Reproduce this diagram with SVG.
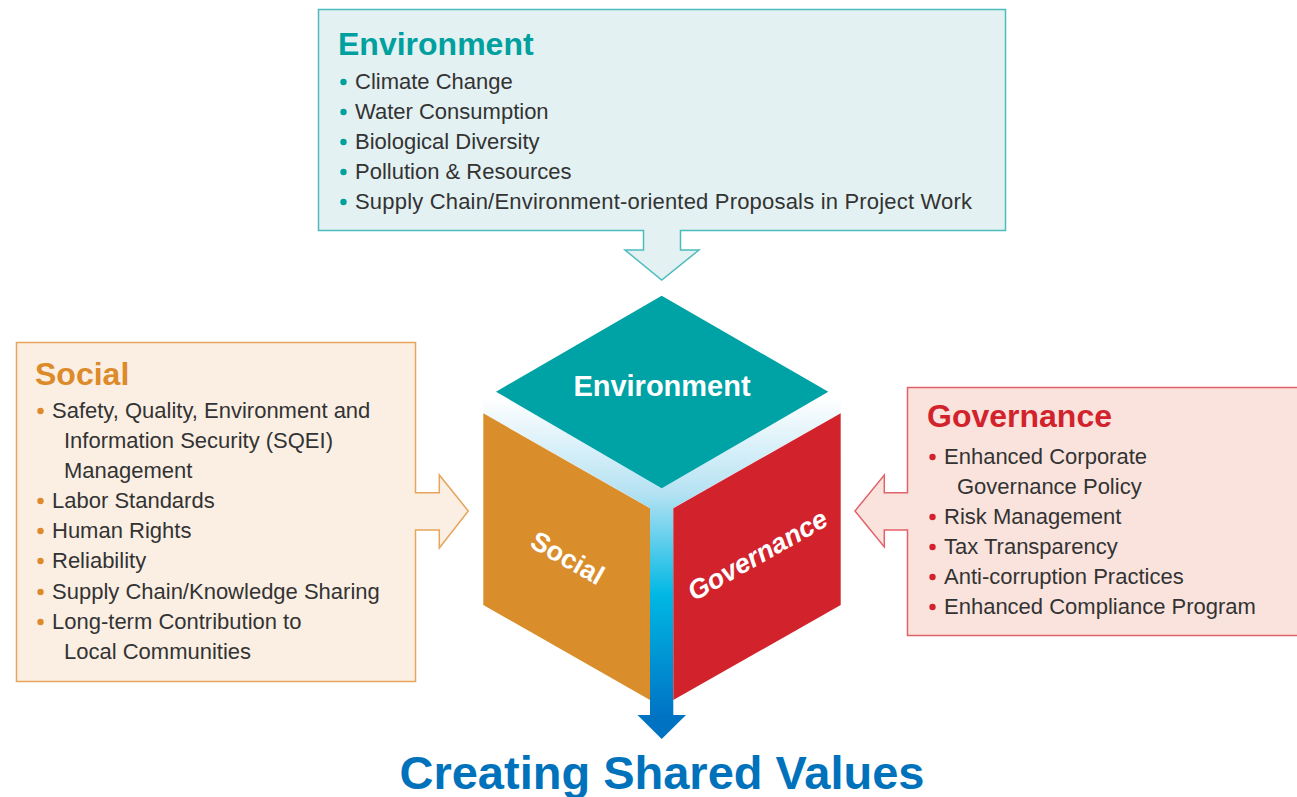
<svg xmlns="http://www.w3.org/2000/svg" width="1297" height="797" viewBox="0 0 1297 797">
<defs>
<linearGradient id="band" x1="0" y1="398" x2="0" y2="715" gradientUnits="userSpaceOnUse">
<stop offset="0" stop-color="#ffffff"/>
<stop offset="0.3" stop-color="#b5e2f3"/>
<stop offset="0.62" stop-color="#00b8e4"/>
<stop offset="1" stop-color="#0074c4"/>
</linearGradient>
<style>
.t{font-family:"Liberation Sans",Arial,sans-serif;}
.h{font-size:32px;font-weight:bold;}
.i{font-size:22px;fill:#333333;}
.cw{font-size:27px;font-weight:bold;fill:#ffffff;}
</style>
</defs>
<rect width="1297" height="797" fill="#ffffff"/>
<g id="connectors">
<path d="M483,398 L661.7,295.7 L840.7,398 L840.7,413 L673.3,508 L673.3,715 L650,715 L650,508 L483.3,413 Z" fill="url(#band)"/>
<polygon points="637.5,715 686,715 661.7,739" fill="#0072c2"/>
</g>
<g id="env-box">
<path d="M318.5,9.5 H1005.5 V230.5 H680.5 V250 H699 L661.7,280 L625,250 H643.5 V230.5 H318.5 Z" fill="#e3f1f2" stroke="#4dbcbf" stroke-width="1.5"/>
<text class="t h" x="338" y="55" fill="#00a09f">Environment</text>
<g fill="#00a09f"><circle cx="343.5" cy="82" r="3.2"/><circle cx="343.5" cy="112" r="3.2"/><circle cx="343.5" cy="142" r="3.2"/><circle cx="343.5" cy="172" r="3.2"/><circle cx="343.5" cy="202" r="3.2"/></g>
<text class="t i" x="355" y="89">Climate Change</text>
<text class="t i" x="355" y="119">Water Consumption</text>
<text class="t i" x="355" y="149">Biological Diversity</text>
<text class="t i" x="355" y="179">Pollution &amp; Resources</text>
<text class="t i" x="355" y="209" textLength="617" lengthAdjust="spacing">Supply Chain/Environment-oriented Proposals in Project Work</text>
</g>
<g id="social-box">
<path d="M16.5,342.5 H415.5 V492.7 H439.3 V475 L468.3,511 L439.3,548 V530 H415.5 V681.5 H16.5 Z" fill="#fbefe4" stroke="#e6a55a" stroke-width="1.5"/>
<text class="t h" x="35" y="385" fill="#dd8b2a">Social</text>
<g fill="#dd8b2a"><circle cx="40.5" cy="411" r="3.2"/><circle cx="40.5" cy="501" r="3.2"/><circle cx="40.5" cy="531" r="3.2"/><circle cx="40.5" cy="561" r="3.2"/><circle cx="40.5" cy="592" r="3.2"/><circle cx="40.5" cy="622" r="3.2"/></g>
<text class="t i" x="52" y="418">Safety, Quality, Environment and</text>
<text class="t i" x="64" y="448">Information Security (SQEI)</text>
<text class="t i" x="64" y="478">Management</text>
<text class="t i" x="52" y="508">Labor Standards</text>
<text class="t i" x="52" y="538">Human Rights</text>
<text class="t i" x="52" y="568">Reliability</text>
<text class="t i" x="52" y="599">Supply Chain/Knowledge Sharing</text>
<text class="t i" x="52" y="629">Long-term Contribution to</text>
<text class="t i" x="64" y="659">Local Communities</text>
</g>
<g id="gov-box">
<path d="M1300,387.5 H907.5 V492.7 H884.3 V475 L855,511 L884.3,547 V530 H907.5 V635.5 H1300" fill="#fae3dd" stroke="#e2626a" stroke-width="1.5"/>
<text class="t h" x="927" y="427" fill="#d2232d">Governance</text>
<g fill="#d2232d"><circle cx="932.5" cy="457" r="3.2"/><circle cx="932.5" cy="517" r="3.2"/><circle cx="932.5" cy="547" r="3.2"/><circle cx="932.5" cy="577" r="3.2"/><circle cx="932.5" cy="607" r="3.2"/></g>
<text class="t i" x="944" y="464">Enhanced Corporate</text>
<text class="t i" x="957" y="494">Governance Policy</text>
<text class="t i" x="944" y="524">Risk Management</text>
<text class="t i" x="944" y="554">Tax Transparency</text>
<text class="t i" x="944" y="584">Anti-corruption Practices</text>
<text class="t i" x="944" y="614">Enhanced Compliance Program</text>
</g>
<g id="cube-top">
<polygon points="661.7,295.7 828.3,391.7 661.7,488.3 496,391.7" fill="#00a3a5"/>
<text class="t cw" x="662" y="396" text-anchor="middle" style="font-size:29px">Environment</text>
</g>
<g id="cube-social">
<polygon points="483.3,413.3 650,508.3 650,700 483.3,605" fill="#d98d2b"/>
<text class="t cw" text-anchor="middle" transform="translate(563,566) rotate(29.6)">Social</text>
</g>
<g id="cube-governance">
<polygon points="673.3,508.3 840.7,413.3 840.7,605 673.3,700" fill="#d2232d"/>
<text class="t cw" font-style="italic" text-anchor="middle" transform="translate(762,563) rotate(-29.6)">Governance</text>
</g>
<g id="title">
<text class="t" x="662" y="789" text-anchor="middle" font-size="47" font-weight="bold" fill="#0072bc">Creating Shared Values</text>
</g>
</svg>
